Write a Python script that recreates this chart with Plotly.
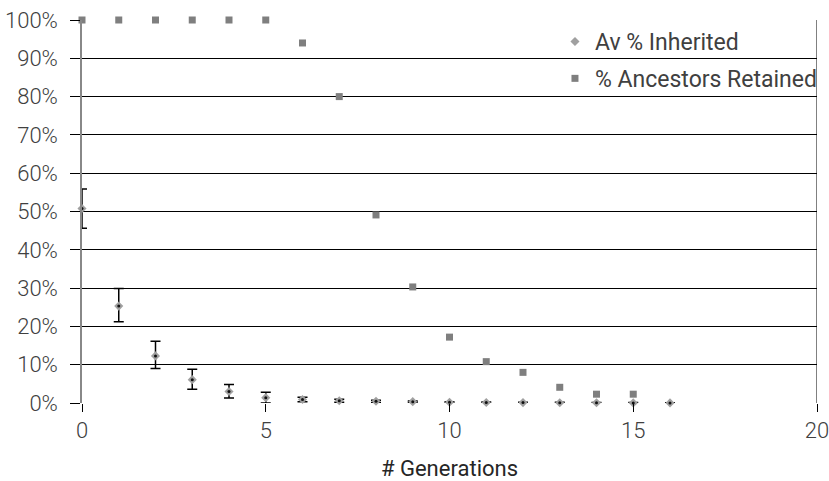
import plotly.graph_objects as go

generations = list(range(0, 17))
av_inherited = [0.508, 0.253, 0.123, 0.061, 0.030, 0.014, 0.009, 0.006, 0.0045, 0.0035,
                0.002, 0.0015, 0.001, 0.0008, 0.0005, 0.0003, 0.0002]
err_plus = [0.051, 0.046, 0.038, 0.027, 0.018, 0.014, 0.006, 0.004, 0.003, 0.002,
            0.0015, 0.001, 0.001, 0.001, 0.001, 0.001, 0.0005]
err_minus = [0.052, 0.041, 0.033, 0.025, 0.017, 0.014, 0.006, 0.004, 0.003, 0.002,
             0.0015, 0.001, 0.001, 0.0008, 0.0005, 0.0003, 0.0002]

ret_generations = list(range(0, 16))
ancestors_retained = [1.0, 1.0, 1.0, 1.0, 1.0, 1.0, 0.94, 0.80, 0.491, 0.303,
                      0.172, 0.108, 0.080, 0.041, 0.023, 0.023]

x_ticks = [0, 5, 10, 15, 20]
y_ticks = [i / 10 for i in range(11)]
X_MAX = 20

FONT = "Roboto"
TXT = "#404040"

fig = go.Figure()

# error bars (clipped to plot area)
fig.add_trace(go.Scatter(
    x=generations, y=av_inherited, mode="markers",
    marker=dict(size=1, opacity=0),
    error_y=dict(type="data", symmetric=False, array=err_plus, arrayminus=err_minus,
                 color="black", thickness=1.5, width=5),
    cliponaxis=True, showlegend=False, hoverinfo="skip"))

fig.add_trace(go.Scatter(
    x=generations, y=av_inherited, mode="markers", name="Av % Inherited",
    legendgroup="a",
    marker=dict(symbol="diamond", size=7, color="#a0a0a0", line=dict(width=0)),
    cliponaxis=False))

fig.add_trace(go.Scatter(
    x=generations, y=av_inherited, mode="markers", showlegend=False,
    marker=dict(symbol="circle", size=3, color="#111111", line=dict(width=0)),
    cliponaxis=False, hoverinfo="skip"))

fig.add_trace(go.Scatter(
    x=ret_generations, y=ancestors_retained, mode="markers", name="% Ancestors Retained",
    legendgroup="b",
    marker=dict(symbol="square", size=7, color="#7f7f7f", line=dict(width=0)),
    cliponaxis=False))

fig.add_shape(type="line", xref="x", yref="paper", x0=X_MAX, x1=X_MAX, y0=0, y1=1,
              line=dict(color="black", width=1))

fig.update_layout(
    width=829, height=481,
    margin=dict(l=82, r=12, t=20, b=78, autoexpand=False),
    paper_bgcolor="white", plot_bgcolor="white",
    font=dict(family=FONT, size=20, color=TXT),
    showlegend=True,
    legend=dict(x=0.6435, y=1.0, xanchor="left", yanchor="top",
                bgcolor="rgba(0,0,0,0)", font=dict(size=23, color=TXT),
                traceorder="grouped", tracegroupgap=4, itemwidth=30),
    xaxis=dict(range=[0, X_MAX], tickvals=x_ticks, ticktext=[str(v) for v in x_ticks],
               showgrid=False, zeroline=False, showline=False,
               ticks="outside", ticklen=8, tickcolor="black", tickwidth=1,
               ticklabeloverflow="allow",
               tickfont=dict(family=FONT, size=22, color=TXT, weight=300),
               title=dict(text="# Generations", font=dict(family=FONT, size=22, color="#262626"),
                          standoff=25)),
    yaxis=dict(range=[0, 1], tickvals=y_ticks, tickformat=".0%",
               showgrid=True, gridcolor="black", gridwidth=1,
               zeroline=False, showline=True, linecolor="#888888", linewidth=1.5,
               ticks="outside", ticklen=10, tickcolor="black", tickwidth=1,
               ticklabelstandoff=8, ticklabeloverflow="allow",
               tickfont=dict(family=FONT, size=22, color=TXT, weight=300)),
)

fig.write_html("out.html", config={"displayModeBar": False},
               post_script="document.body.style.margin='0';document.body.style.overflow='hidden';")
